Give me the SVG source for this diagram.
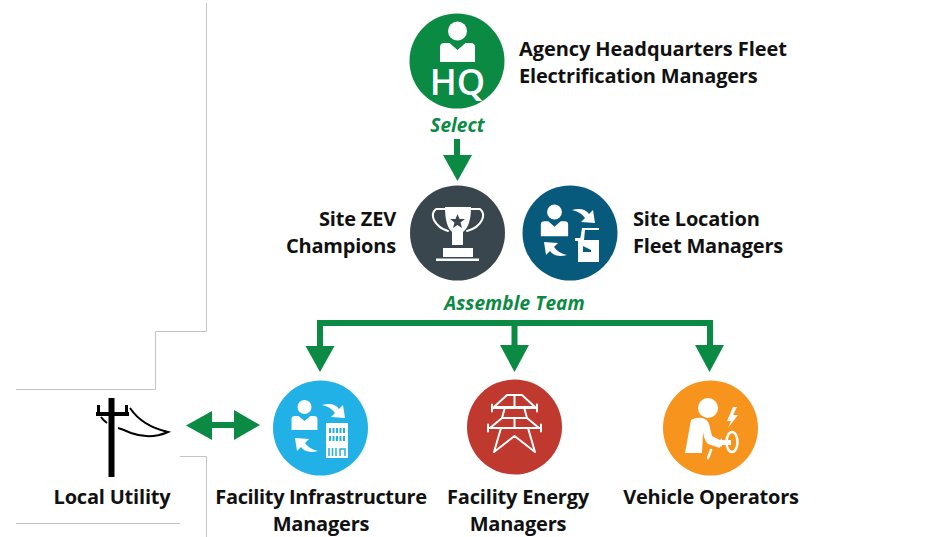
<svg xmlns="http://www.w3.org/2000/svg" width="945" height="537" viewBox="0 0 945 537">
<style>
text{font-family:"Open Sans","Liberation Sans",sans-serif;font-weight:700;fill:#111;font-size:20px;letter-spacing:-.2px}
.c{text-anchor:middle}
.g{fill:#0b8a43;font-style:italic;font-size:19px;letter-spacing:.1px}
.w{fill:#fff}
.wl{fill:none;stroke:#fff;stroke-width:2;stroke-linecap:round;stroke-linejoin:round}
.edge{fill:none;stroke:#c4c4c4;stroke-width:1}
.ln{fill:none;stroke:#0b8a43;stroke-width:6}
.ah{fill:#0b8a43}
</style>
<defs>
<g id="person"><circle cx="0" cy="0" r="9.500"/><path d="M-17.500 31V16Q-17.500 12-13 12H-8L0 19L8 12H13Q17.500 12 17.500 16V31Z"/></g>
<path id="swap" d="M0 2Q12-1 17 6L21 2L23 15L9 14L13 10Q9 4 0 2Z"/>
</defs>
<g id="background-edges">
<path class="edge" d="M206.500 3V331.500H155.500V389.500H16"/>
<path class="edge" d="M180 456.500H206.500V537"/>
<path class="edge" d="M16 523.500H180"/>
</g>
<g id="connectors">
<path class="ln" d="M457 139V160"/><path class="ah" d="M443 155H472L457.500 181Z"/>
<path class="ln" d="M320 346V323H710V346"/>
<path class="ln" d="M514.500 323V346"/>
<path class="ah" d="M305.500 346H334.500L320 372Z"/>
<path class="ah" d="M500 345H529L514.500 372Z"/>
<path class="ah" d="M695 345H724L709.500 372Z"/>
<path class="ln" d="M205 425H240"/>
<path class="ah" d="M186 425.500L212 411V440Z"/>
<path class="ah" d="M260 425L234 410V440Z"/>
</g>
<g id="hq">
<circle cx="457" cy="61" r="47.500" fill="#0b8a43"/>
<use href="#person" x="457.500" y="31" fill="#fff"/>
<text x="457.500" y="95" class="c" style="font-size:36px;font-weight:600;fill:#fff;letter-spacing:0">HQ</text>
<text x="519" y="56" style="letter-spacing:-.08px">Agency Headquarters Fleet</text>
<text x="519" y="83">Electrification Managers</text>
</g>
<text x="457.500" y="132" class="c g">Select</text>
<g id="champions">
<circle cx="457.500" cy="233" r="47.500" fill="#3a464e"/>
<path class="w" d="M445 207H471Q471 226 463 232V245H452V232Q445 226 445 207Z"/>
<path fill="#3a464e" d="M457.500 214L459.500 219H465L460.500 222.500L462 228L457.500 225L453 228L454.500 222.500L450 219H455.500Z"/>
<path class="wl" d="M445 209H436Q431 213 434 220Q438 228 448 231M471 209H480Q485 213 482 220Q478 228 467 231"/>
<rect class="w" x="443" y="248" width="30" height="9"/>
<rect class="w" x="436" y="258.500" width="43" height="2.500"/>
<text x="396" y="226" text-anchor="end">Site ZEV</text>
<text x="396" y="253" text-anchor="end">Champions</text>
</g>
<g id="site-managers">
<circle cx="570" cy="233" r="47.500" fill="#075a7c"/>
<use href="#person" transform="translate(554.500,212) scale(.78)" fill="#fff"/>
<use href="#swap" x="572" y="208" fill="#fff"/>
<use href="#swap" transform="translate(567,257) rotate(180)" fill="#fff"/>
<path class="w" d="M580 240L582 228H599V230H585L584 240H599V262H578V240Z"/>
<path class="w" d="M575 238H581V241H575Z"/>
<path fill="#075a7c" d="M583 246L591 250V252H583Z"/>
<text x="633" y="226">Site Location</text>
<text x="633" y="253">Fleet Managers</text>
</g>
<text x="514.500" y="310" class="c g">Assemble Team</text>
<g id="utility">
<rect x="108.500" y="398" width="6" height="79" fill="#000"/>
<rect x="96" y="412" width="33" height="4" fill="#000"/>
<rect x="97" y="405" width="3" height="7" fill="#000"/>
<rect x="125" y="405" width="3" height="7" fill="#000"/>
<path fill="none" stroke="#000" stroke-width="2" d="M130 408Q142 426 168 432Q150 440 131 433Q122 429 118 428M101 417Q103 420 107 423"/>
<text x="112" y="504" class="c">Local Utility</text>
</g>
<g id="infrastructure">
<circle cx="320.500" cy="428" r="47.500" fill="#22b1e6"/>
<use href="#person" transform="translate(304.500,407) scale(.74)" fill="#fff"/>
<use href="#swap" x="322" y="403" fill="#fff"/>
<use href="#swap" transform="translate(318,453) rotate(180)" fill="#fff"/>
<rect x="326" y="423" width="22" height="35" fill="#fff"/>
<path fill="none" stroke="#22b1e6" stroke-width="5" stroke-dasharray="2 1.500" d="M329 430.500H345M329 438.500H345"/>
<path fill="none" stroke="#22b1e6" stroke-width="1.500" d="M329 448V456M332.500 448V456M336 448V456M340 456V449H345V456"/>
<text x="321" y="504" class="c" style="letter-spacing:-.35px">Facility Infrastructure</text>
<text x="321" y="531" class="c">Managers</text>
</g>
<g id="energy">
<circle cx="514.500" cy="427" r="47.500" fill="#c0392e"/>
<path class="wl" d="M494 407L507 395H522L535 407ZM514.500 395V407M492 408H537M492 404.500V411.500M537 404.500V411.500M505 407L502 418H527L524 407M490 428L502 418M539 428L527 418M488 428H541M488 424.500V431.500M541 424.500V431.500M514.500 418V428M501 428L494 452L514.500 436L535 452L528 428"/>
<text x="518" y="504" class="c">Facility Energy</text>
<text x="518" y="531" class="c">Managers</text>
</g>
<g id="operators">
<circle cx="710.500" cy="428" r="47.500" fill="#f7941e"/>
<circle cx="708" cy="408" r="10" fill="#fff"/>
<path class="w" d="M691 420Q698 416 705 419Q709 421 710 428L712 436L722 441L720 448L708 444Q704 440 703 432L702 453H685Z"/>
<path class="wl" d="M711 450L708 458" style="stroke-width:2.500"/>
<path class="w" d="M733 407L727 421H731L728 428L738 415H733L737 407Z"/>
<ellipse cx="732" cy="442" rx="5.500" ry="10" fill="none" stroke="#fff" stroke-width="2.500"/>
<path class="w" d="M722 438V440H731V445H722V447L717 443Z"/>
<text x="711" y="504" class="c">Vehicle Operators</text>
</g>
</svg>
